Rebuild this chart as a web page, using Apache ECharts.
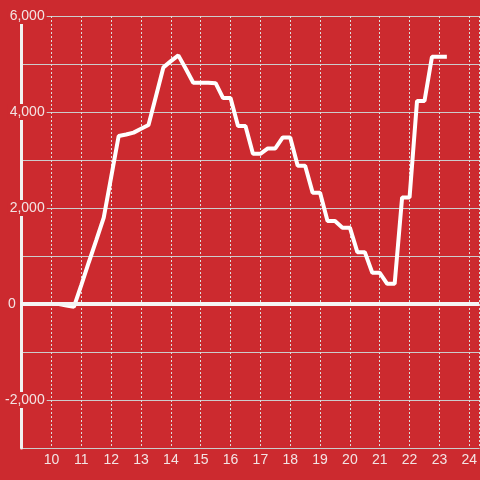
<!DOCTYPE html>
<html>
<head>
<meta charset="utf-8">
<script src="https://cdn.jsdelivr.net/npm/echarts@6/dist/echarts.min.js"></script>
<style>
  html, body { margin: 0; padding: 0; background: #cc2a2f; }
  #chart { width: 480px; height: 480px; }
</style>
</head>
<body>
<div id="chart"></div>
<script>
// hour of day (quarter-hour steps)
const hours = [
  9, 9.25, 9.5, 9.75, 10, 10.25, 10.5, 10.75, 11, 11.25, 11.5, 11.75,
  12, 12.25, 12.5, 12.75, 13, 13.25, 13.5, 13.75, 14, 14.25, 14.5, 14.75,
  15, 15.25, 15.5, 15.75, 16, 16.25, 16.5, 16.75, 17, 17.25, 17.5, 17.75,
  18, 18.25, 18.5, 18.75, 19, 19.25, 19.5, 19.75, 20, 20.25, 20.5, 20.75,
  21, 21.25, 21.5, 21.75, 22, 22.25, 22.5, 22.75, 23, 23.25
];
const values = [
  0, 0, 0, 0, 0, 0, -30, -60, 400, 870, 1330, 1800,
  2650, 3500, 3530, 3570, 3650, 3730, 4330, 4930, 5060, 5180, 4900, 4610,
  4610, 4610, 4600, 4290, 4290, 3710, 3710, 3130, 3130, 3240, 3240, 3470,
  3470, 2880, 2880, 2320, 2320, 1730, 1730, 1590, 1590, 1080, 1080, 650,
  650, 420, 420, 2220, 2220, 4230, 4230, 5150, 5150, 5150
];
const yLabels = [-2000, 0, 2000, 4000, 6000];

const bg = '#cc2a2f';
const labelColor = '#f3e4e4';

const chart = echarts.init(document.getElementById('chart'));

const yBase = { type: 'value', min: -3000, max: 6000, interval: 1000 };

chart.setOption({
  backgroundColor: bg,
  animation: false,
  textStyle: { fontFamily: 'Liberation Sans, Arial, sans-serif' },
  grid: { left: 20, right: 0, top: 16, bottom: 32 },
  xAxis: {
    type: 'value',
    min: 9,
    max: 9 + 460 / 30,
    interval: 1,
    axisLine: { onZero: false, lineStyle: { color: '#cccccc', width: 1 } },
    axisTick: { show: false },
    axisLabel: {
      color: labelColor,
      fontSize: 14,
      margin: 5,
      showMinLabel: false,
      showMaxLabel: false,
      formatter: (v) => (Number.isInteger(v) && v >= 10 ? String(v) : '')
    },
    splitLine: { show: true, lineStyle: { color: '#dddddd', width: 1, type: [2, 2] } }
  },
  yAxis: [
    Object.assign({}, yBase, {
      axisLine: { show: false },
      axisTick: { show: false },
      axisLabel: { show: false },
      splitLine: { show: true, lineStyle: { color: '#cccccc', width: 1 } }
    }),
    Object.assign({}, yBase, {
      position: 'left',
      z: 3,
      axisLine: { show: true, lineStyle: { color: '#f2f2f2', width: 3 } },
      axisTick: { show: false },
      splitLine: { show: false },
      axisLabel: {
        margin: -25,
        align: 'right',
        formatter: (v) => {
          if (!yLabels.includes(v)) return '';
          const txt = v.toLocaleString('en-US');
          return v === 0 ? '{z|' + txt + '}' : '{b|' + txt + '}';
        },
        rich: {
          b: { color: labelColor, fontSize: 14, backgroundColor: bg, padding: [1, 2, 1, 2] },
          z: { color: labelColor, fontSize: 14, padding: [1, 31, 1, 2] }
        }
      }
    })
  ],
  series: [{
    type: 'line',
    yAxisIndex: 0,
    data: hours.map((h, i) => [h, values[i]]),
    showSymbol: false,
    lineStyle: { color: '#ffffff', width: 4 },
    z: 4,
    markLine: {
      silent: true,
      symbol: 'none',
      label: { show: false },
      lineStyle: { color: '#f5f5f5', width: 4, type: 'solid' },
      data: [{ yAxis: 0 }]
    }
  }]
});
</script>
</body>
</html>
